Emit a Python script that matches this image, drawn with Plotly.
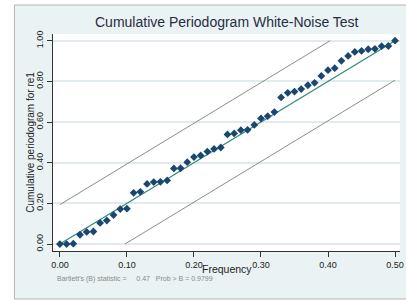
import plotly.graph_objects as go

freq = [i / 100 for i in range(51)]
cum_pgram = [0.000, 0.000, 0.002, 0.046, 0.060, 0.062, 0.104, 0.116, 0.143, 0.172,
             0.174, 0.252, 0.257, 0.296, 0.305, 0.306, 0.313, 0.372, 0.373, 0.403,
             0.428, 0.436, 0.455, 0.468, 0.475, 0.539, 0.544, 0.560, 0.562, 0.586,
             0.618, 0.629, 0.649, 0.721, 0.744, 0.750, 0.762, 0.781, 0.793, 0.827,
             0.855, 0.865, 0.901, 0.925, 0.945, 0.950, 0.958, 0.960, 0.973, 0.974,
             1.000]
band = 0.194
diag_x = [0.0, 0.5]
diag_y = [0.0, 1.0]
upper_x = [0.0, 0.5 - band / 2]
upper_y = [band, 1.0]
lower_x = [band / 2, 0.5]
lower_y = [0.0, 1.0 - band]

x_ticks = [0.0, 0.1, 0.2, 0.3, 0.4, 0.5]
x_labels = ["0.00", "0.10", "0.20", "0.30", "0.40", "0.50"]
y_ticks = [0.0, 0.2, 0.4, 0.6, 0.8, 1.0]
y_labels = ["0.00", "0.20", "0.40", "0.60", "0.80", "1.00"]

title_text = "Cumulative Periodogram White-Noise Test"
ytitle = "Cumulative periodogram for re1"
xtitle = "Frequency"
note = "Bartlett's (B) statistic =     0.47   Prob > B = 0.9799"

FONT = "Liberation Sans, Arial, sans-serif"
BG = "#eaf2f3"

fig = go.Figure()
fig.add_trace(go.Scatter(x=upper_x, y=upper_y, mode="lines",
                         line=dict(color="#8c8c8c", width=1), hoverinfo="skip"))
fig.add_trace(go.Scatter(x=lower_x, y=lower_y, mode="lines",
                         line=dict(color="#8c8c8c", width=1), hoverinfo="skip"))
fig.add_trace(go.Scatter(x=diag_x, y=diag_y, mode="lines",
                         line=dict(color="#2f8a78", width=1.2), hoverinfo="skip"))
fig.add_trace(go.Scatter(x=freq, y=cum_pgram, mode="markers",
                         marker=dict(symbol="diamond", size=6, color="#1a476f",
                                     line=dict(width=0))))

fig.add_shape(type="rect", xref="paper", yref="paper",
              x0=(14 - 53) / 351, x1=(412 - 53) / 351,
              y0=(251 - 299) / 217, y1=(251 - 5) / 217,
              fillcolor=BG, line=dict(color="#b4b4b4", width=1), layer="below")
fig.add_shape(type="rect", xref="x domain", yref="y domain", x0=0, x1=1, y0=0, y1=1,
              fillcolor="white", line=dict(width=0), layer="below")

fig.update_layout(
    width=406, height=302,
    margin=dict(l=53, r=2, t=34, b=51),
    paper_bgcolor="white", plot_bgcolor="white",
    showlegend=False,
    font=dict(family=FONT, color="#222"),
    xaxis=dict(range=[-0.0103, 0.5074], tickvals=x_ticks, ticktext=x_labels,
               showgrid=False, zeroline=False, showline=True, linecolor="#333",
               linewidth=1, ticks="outside", ticklen=5, tickcolor="#333",
               ticklabeloverflow="allow",
               tickfont=dict(size=9, family=FONT, color="#222")),
    yaxis=dict(range=[-0.034, 1.033], tickvals=y_ticks, ticktext=y_labels,
               showgrid=True, gridcolor="#e1eaed", gridwidth=1.5, zeroline=False,
               showline=True, linecolor="#333", linewidth=1, ticks="outside",
               ticklen=5, tickcolor="#333", tickangle=-90,
               tickfont=dict(size=9, family=FONT, color="#222")),
    annotations=[
        dict(text=title_text, xref="paper", yref="paper", x=0.5, y=(251 - 22) / 217,
             showarrow=False, xanchor="center", yanchor="middle",
             font=dict(size=14, family=FONT, color="#1f2f40")),
        dict(text=ytitle, xref="paper", yref="paper", x=(30 - 53) / 351, y=0.5,
             textangle=-90, showarrow=False, xanchor="center", yanchor="middle",
             font=dict(size=10, family=FONT, color="#222")),
        dict(text=xtitle, xref="paper", yref="paper", x=0.5, y=(251 - 269) / 217,
             showarrow=False, xanchor="center", yanchor="middle",
             font=dict(size=10.5, family=FONT, color="#222")),
        dict(text=note.replace(" ", "&nbsp;"), xref="paper", yref="paper",
             x=(55 - 53) / 351, y=(251 - 279) / 217,
             showarrow=False, xanchor="left", yanchor="middle",
             font=dict(size=7, family=FONT, color="#8a8a8a")),
    ],
)

fig.write_html("out.html", config={"displayModeBar": False},
               post_script="document.body.style.margin='0';document.body.style.padding='0';")
